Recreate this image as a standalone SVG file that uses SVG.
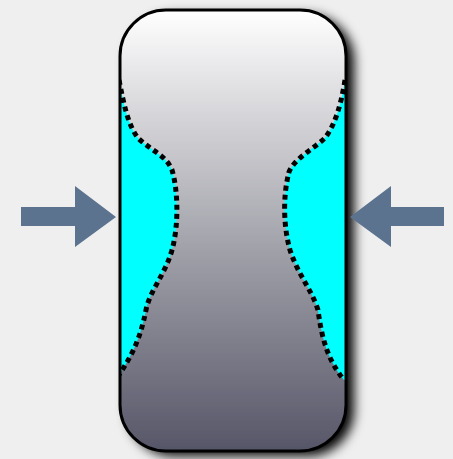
<svg xmlns="http://www.w3.org/2000/svg" width="453" height="459" viewBox="0 0 453 459">
<defs>
<linearGradient id="body" x1="0" y1="0" x2="0" y2="1">
<stop offset="0" stop-color="#ffffff"/>
<stop offset="0.5" stop-color="#a8a8b0"/>
<stop offset="1" stop-color="#565668"/>
</linearGradient>
<filter id="sh" x="-20%" y="-10%" width="150%" height="130%">
<feDropShadow dx="8" dy="5" stdDeviation="6" flood-color="#000" flood-opacity="1"/>
</filter>
<clipPath id="clip"><rect x="120" y="10" width="226" height="441" rx="46" ry="46"/></clipPath>
<style>
.dots{fill:none;stroke:#000;stroke-width:5;stroke-dasharray:5 4}
.arrow{fill:#5c7390}
.cyan{fill:#00ffff}
</style>
</defs>
<rect width="453" height="459" fill="#efefef"/>
<g id="vessel">
<rect x="120" y="10" width="226" height="441" rx="46" ry="46" fill="url(#body)" filter="url(#sh)"/>
<g clip-path="url(#clip)">
<path id="left-fluid" class="cyan" d="M110,78 L119,80 C124,105 128,125 138,138 C150,150 166,155 172,170 C178,190 179,225 172,250 C165,275 150,290 146,310 C140,340 132,355 119,375 L110,375 Z"/>
<path id="right-fluid" class="cyan" d="M356,78 L345,80 C341,105 335,125 325,138 C312,150 295,158 289,172 C283,195 283,225 290,250 C298,275 312,290 318,310 C322,340 328,360 344,380 L356,380 Z"/>
<path class="dots" d="M119,80 C124,105 128,125 138,138 C150,150 166,155 172,170 C178,190 179,225 172,250 C165,275 150,290 146,310 C140,340 132,355 119,375"/>
<path class="dots" d="M345,80 C341,105 335,125 325,138 C312,150 295,158 289,172 C283,195 283,225 290,250 C298,275 312,290 318,310 C322,340 328,360 344,380"/>
</g>
<rect x="120" y="10" width="226" height="441" rx="46" ry="46" fill="none" stroke="#000" stroke-width="3"/>
</g>
<g id="left-arrow"><polygon class="arrow" points="21,207 75,207 75,186 116,217 75,247 75,226 21,226"/></g>
<g id="right-arrow"><polygon class="arrow" points="444,207 391,207 391,186 350,217 391,247 391,226 444,226"/></g>
</svg>
